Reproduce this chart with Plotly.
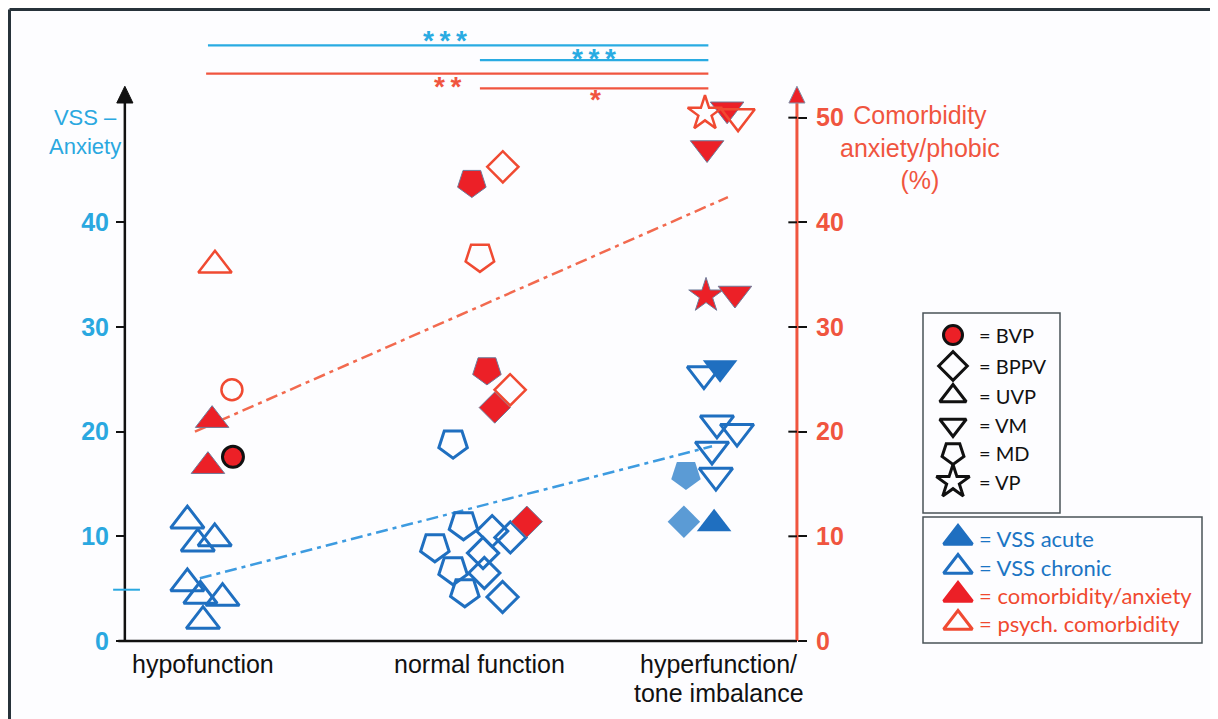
import plotly.graph_objects as go

# ---------------- data ----------------
categories = ["hypofunction", "normal function", "hyperfunction/<br>tone imbalance"]
cat_pos = [1.0, 2.0, 3.0]
cat_label_pos = [1.0, 2.06, 2.98]

left_ticks = [0, 10, 20, 30, 40]
right_ticks = [0, 10, 20, 30, 40, 50]

# VSS chronic (open blue), left axis
chronic_cat = [0, 0, 0, 0, 0, 0, 0, 1, 1, 1, 1, 1, 1, 1, 1, 1, 1, 2, 2, 2, 2, 2]
chronic_jit = [-0.06, -0.02, 0.045, -0.06, -0.01, 0.075, 0.0, -0.04, 0.0, -0.11, -0.04, 0.005,
               0.11, 0.18, 0.075, 0.08, 0.15, -0.077, -0.027, 0.05, -0.046, -0.031]
chronic_val = [11.5, 9.3, 9.8, 5.5, 4.3, 4.1, 1.9, 18.9, 11.1, 9.0, 6.8, 4.7,
               10.5, 9.9, 8.4, 6.5, 4.2, 25.5, 20.8, 20.0, 18.3, 15.8]
chronic_dx = ["UVP"] * 7 + ["MD"] * 5 + ["BPPV"] * 5 + ["VM"] * 5

# VSS acute (filled blue), left axis
acute_cat = [2, 2, 2, 2]
acute_jit = [-0.015, -0.146, -0.154, -0.038]
acute_val = [26.1, 15.9, 11.4, 11.2]
acute_dx = ["VM", "MD", "BPPV", "UVP"]
acute_color = ["#1f6fc0", "#5b9bd5", "#5b9bd5", "#1f6fc0"]

# comorbidity / anxiety (filled red), right axis (%)
comorb_cat = [0, 0, 0, 1, 1, 1, 1, 2, 2, 2, 2]
comorb_jit = [0.035, 0.019, 0.115, 0.032, 0.09, 0.12, 0.243, 0.012, -0.065, -0.069, 0.042]
comorb_val = [21.1, 16.7, 17.6, 43.8, 25.9, 22.3, 11.4, 50.8, 47.1, 33.0, 33.2]
comorb_dx = ["UVP", "UVP", "BVP", "MD", "MD", "BPPV", "BPPV", "VM", "VM", "VP", "VM"]

# psychiatric comorbidity (open red), right axis (%)
psych_cat = [0, 0, 1, 1, 1, 2, 2]
psych_jit = [0.046, 0.111, 0.151, 0.063, 0.179, -0.073, 0.054]
psych_val = [35.9, 24.0, 45.3, 36.7, 24.0, 50.4, 50.1]
psych_dx = ["UVP", "BVP", "BPPV", "MD", "BPPV", "VP", "VM"]

# regression (trend) lines
red_trend_x = [0.969, 3.015]
red_trend_y = [20.0, 42.4]
blue_trend_x = [0.988, 2.954]
blue_trend_y = [6.0, 18.6]
vss_mean_mark = 4.9

# significance bars
sig_x0 = [1.019, 2.063, 1.012, 2.063]
sig_x1 = [2.94, 2.94, 2.94, 2.94]
sig_y = [56.9, 55.5, 54.2, 52.8]
sig_text = ["***", "***", "**", "*"]
sig_text_x = [1.93, 2.50, 1.94, 2.505]
sig_color = ["#29abe2", "#29abe2", "#f0553f", "#f0553f"]
sig_shift = [5, 2, -13, -11]

legend1_labels = ["= BVP", "= BPPV", "= UVP", "= VM", "= MD", "= VP"]
legend2_labels = ["= VSS acute", "= VSS chronic", "= comorbidity/anxiety", "= psych. comorbidity"]

# ---------------- styles ----------------
BLUE = "#1f6fc0"
RED = "#ec2027"
PSYCH = "#f04a32"
SKY = "#2aa8e0"
AXRED = "#f0553f"
FONT = "Liberation Sans, Arial, sans-serif"

symbol_by_dx = {"UVP": "triangle-up", "VM": "triangle-down", "BPPV": "diamond",
                "MD": "pentagon", "VP": "star", "BVP": "circle"}
size_by_dx = {"UVP": 29, "VM": 29, "BPPV": 24, "MD": 30, "VP": 26, "BVP": 21}
angle_by_dx = {"UVP": 0, "VM": 0, "BPPV": 0, "MD": 180, "VP": 0, "BVP": 0}

# screen geometry: the page body has an 8px margin
SW, SH = 1218, 719
OFF = 8
W, H = SW - OFF, SH - OFF
X_RANGE = [1 + (OFF - 203) / 260.5, 1 + (SW - 203) / 260.5]
Y_RANGE = [(641 - SH) / 10.467, (641 - OFF) / 10.467]
LEFT_AX_X = 0.70
RIGHT_AX_X = 3.28


def px(s):
    return (s - OFF) / W


def py(s):
    return 1 - (s - OFF) / H


def xs(cats, jits):
    return [cat_pos[c] + j for c, j in zip(cats, jits)]


def sym(dxs, open_=False):
    return [symbol_by_dx[d] + ("-open" if open_ else "") for d in dxs]


fig = go.Figure()

# trend lines
fig.add_trace(go.Scatter(x=red_trend_x, y=red_trend_y, mode="lines", yaxis="y2",
                         line=dict(color="#f26a4f", width=2.5, dash="12px,5px,4px,5px"),
                         hoverinfo="skip", showlegend=False))
fig.add_trace(go.Scatter(x=blue_trend_x, y=blue_trend_y, mode="lines",
                         line=dict(color="#3d9be0", width=2.5, dash="12px,5px,4px,5px"),
                         hoverinfo="skip", showlegend=False))

# VSS chronic
fig.add_trace(go.Scatter(
    x=xs(chronic_cat, chronic_jit), y=chronic_val, mode="markers", name="VSS chronic",
    marker=dict(symbol=sym(chronic_dx, True), size=[size_by_dx[d] for d in chronic_dx],
                angle=[angle_by_dx[d] for d in chronic_dx], color=BLUE, opacity=1,
                line=dict(color=BLUE, width=3)),
    showlegend=False))

# VSS acute
fig.add_trace(go.Scatter(
    x=xs(acute_cat, acute_jit), y=acute_val, mode="markers", name="VSS acute",
    marker=dict(symbol=sym(acute_dx), size=[size_by_dx[d] + 1 for d in acute_dx],
                angle=[angle_by_dx[d] for d in acute_dx], color=acute_color, opacity=1,
                line=dict(width=0)),
    showlegend=False))

# comorbidity / anxiety
fig.add_trace(go.Scatter(
    x=xs(comorb_cat, comorb_jit), y=comorb_val, mode="markers", yaxis="y2",
    name="comorbidity/anxiety",
    marker=dict(symbol=sym(comorb_dx), size=[size_by_dx[d] for d in comorb_dx],
                angle=[angle_by_dx[d] for d in comorb_dx], color=RED, opacity=1,
                line=dict(color=["#111111" if d == "BVP" else "#6d7b9a" for d in comorb_dx],
                          width=[3 if d == "BVP" else 1 for d in comorb_dx])),
    showlegend=False))

# psych comorbidity
fig.add_trace(go.Scatter(
    x=xs(psych_cat, psych_jit), y=psych_val, mode="markers", yaxis="y2",
    name="psych. comorbidity",
    marker=dict(symbol=sym(psych_dx, True), size=[size_by_dx[d] for d in psych_dx],
                angle=[angle_by_dx[d] for d in psych_dx], color=PSYCH, opacity=1,
                line=dict(color=PSYCH, width=2.5)),
    showlegend=False))

# ---------------- legend (pixel axes x3/y3, screen coordinates) ----------------
leg1_y = [335, 366, 396, 425, 453, 482]
leg1_sym = ["circle", "diamond-open", "triangle-up-open", "triangle-down-open", "pentagon-open", "star-open"]
leg1_size = [19, 22, 23, 23, 23, 25]
leg1_angle = [0, 0, 0, 0, 180, 0]
fig.add_trace(go.Scatter(
    x=[953] * 6, y=leg1_y, xaxis="x3", yaxis="y3", mode="markers",
    marker=dict(symbol=leg1_sym, size=leg1_size, angle=leg1_angle, opacity=1,
                color=[RED, "#111", "#111", "#111", "#111", "#111"],
                line=dict(color="#111111", width=3)),
    hoverinfo="skip", showlegend=False))
leg2_y = [538, 567, 595, 623]
fig.add_trace(go.Scatter(
    x=[958] * 4, y=leg2_y, xaxis="x3", yaxis="y3", mode="markers",
    marker=dict(symbol=["triangle-up", "triangle-up-open", "triangle-up", "triangle-up-open"],
                size=25, opacity=1, color=[BLUE, BLUE, RED, PSYCH],
                line=dict(color=[BLUE, BLUE, RED, PSYCH], width=3)),
    hoverinfo="skip", showlegend=False))

annotations = []
for lab, yy in zip(legend1_labels, leg1_y):
    annotations.append(dict(x=977, y=yy, xref="x3", yref="y3", text=lab, showarrow=False,
                            xanchor="left", yanchor="middle",
                            font=dict(family="Lato, " + FONT, size=20, color="#111111")))
leg2_colors = ["#1b75c4", "#1b75c4", "#f0492f", "#f0492f"]
for lab, yy, cc in zip(legend2_labels, leg2_y, leg2_colors):
    annotations.append(dict(x=977, y=yy, xref="x3", yref="y3", text=lab, showarrow=False,
                            xanchor="left", yanchor="middle",
                            font=dict(family="Lato, " + FONT, size=22, color=cc)))

# category labels (one annotation per line)
for lab, cx in zip(categories, cat_label_pos):
    for i, line in enumerate(lab.split("<br>")):
        annotations.append(dict(x=cx, y=py(664 + 29 * i), xref="x", yref="paper", text=line,
                                showarrow=False, xanchor="center", yanchor="middle",
                                font=dict(family=FONT, size=25, color="#111111")))

# axis titles
annotations.append(dict(x=px(85), y=py(132), xref="paper", yref="paper", text="VSS –<br>Anxiety",
                        showarrow=False, xanchor="center", yanchor="middle", align="center",
                        font=dict(family=FONT, size=22, color=SKY)))
annotations.append(dict(x=px(920), y=py(148), xref="paper", yref="paper",
                        text="Comorbidity<br>anxiety/phobic<br>(%)",
                        showarrow=False, xanchor="center", yanchor="middle", align="center",
                        font=dict(family=FONT, size=25, color=AXRED)))

# significance asterisks
for t, tx, ty, c, s in zip(sig_text, sig_text_x, sig_y, sig_color, sig_shift):
    annotations.append(dict(x=tx, y=ty, xref="x", yref="y", text="\u2009".join(t), showarrow=False,
                            xanchor="center", yanchor="middle", yshift=s,
                            font=dict(family=FONT, size=28, color=c, weight="bold")))

shapes = []
# significance bars
for x0, x1, y, c in zip(sig_x0, sig_x1, sig_y, sig_color):
    shapes.append(dict(type="line", xref="x", yref="y", x0=x0, x1=x1, y0=y, y1=y,
                       line=dict(color=c, width=2.2)))
# axes
shapes.append(dict(type="line", xref="x", yref="y", x0=0.675, x1=RIGHT_AX_X, y0=0, y1=0,
                   line=dict(color="#111111", width=2.5)))
shapes.append(dict(type="line", xref="x", yref="y", x0=LEFT_AX_X, x1=LEFT_AX_X, y0=0, y1=51.8,
                   line=dict(color="#111111", width=2.5)))
shapes.append(dict(type="line", xref="x", yref="y", x0=RIGHT_AX_X, x1=RIGHT_AX_X, y0=0, y1=51.8,
                   line=dict(color=AXRED, width=3)))
for ax_x, fillc, linec in [(LEFT_AX_X, "#111111", "#111111"), (RIGHT_AX_X, "#ec2027", "#8090a8")]:
    shapes.append(dict(type="path", xref="x", yref="y",
                       path=f"M {ax_x - 0.031},51.4 L {ax_x + 0.031},51.4 L {ax_x},53.0 Z",
                       fillcolor=fillc, line=dict(color=linec, width=1)))
for v in right_ticks:
    shapes.append(dict(type="line", xref="x", yref="y", x0=RIGHT_AX_X - 0.033, x1=RIGHT_AX_X,
                       y0=v, y1=v, line=dict(color="#111111", width=2)))
shapes.append(dict(type="line", xref="x", yref="y", x0=0.655, x1=0.758, y0=vss_mean_mark, y1=vss_mean_mark,
                   line=dict(color=SKY, width=2)))
# legend boxes
shapes.append(dict(type="rect", xref="x3", yref="y3", x0=923, x1=1060, y0=313, y1=513,
                   line=dict(color="#4a5358", width=1.5)))
shapes.append(dict(type="rect", xref="x3", yref="y3", x0=923, x1=1202, y0=517, y1=643,
                   line=dict(color="#4a5358", width=1.5)))
# outer frame (left + top)
shapes.append(dict(type="line", xref="paper", yref="paper", x0=px(9.5), x1=px(9.5), y0=0, y1=py(9.5),
                   line=dict(color="#27323a", width=3)))
shapes.append(dict(type="line", xref="paper", yref="paper", x0=px(9.5), x1=1, y0=py(9.5), y1=py(9.5),
                   line=dict(color="#27323a", width=3)))

fig.update_layout(
    width=W, height=H, autosize=False,
    margin=dict(l=0, r=0, t=0, b=0, pad=0),
    paper_bgcolor="#fdfdff", plot_bgcolor="rgba(0,0,0,0)",
    showlegend=False,
    xaxis=dict(domain=[0, 1], range=X_RANGE, visible=False, fixedrange=True),
    yaxis=dict(domain=[0, 1], range=Y_RANGE, anchor="free", position=px(125),
               tickmode="array", tickvals=left_ticks, ticks="outside", ticklen=9, tickwidth=2,
               tickcolor="#111111", ticklabelstandoff=2,
               tickfont=dict(family=FONT, size=25, color=SKY, weight="bold"),
               showline=False, showgrid=False, zeroline=False, fixedrange=True),
    yaxis2=dict(range=Y_RANGE, overlaying="y", anchor="free", position=px(797), side="right",
                tickmode="array", tickvals=right_ticks, ticks="outside", ticklen=9, tickwidth=2,
                tickcolor="#111111", ticklabelstandoff=4,
                tickfont=dict(family=FONT, size=25, color=AXRED, weight="bold"),
                showline=False, showgrid=False, zeroline=False, fixedrange=True),
    xaxis3=dict(domain=[0, 1], range=[OFF, SW], anchor="y3", visible=False, fixedrange=True),
    yaxis3=dict(domain=[0, 1], range=[SH, OFF], anchor="x3", visible=False, fixedrange=True),
    annotations=annotations,
    shapes=shapes,
)

fig.write_html("out.html")
